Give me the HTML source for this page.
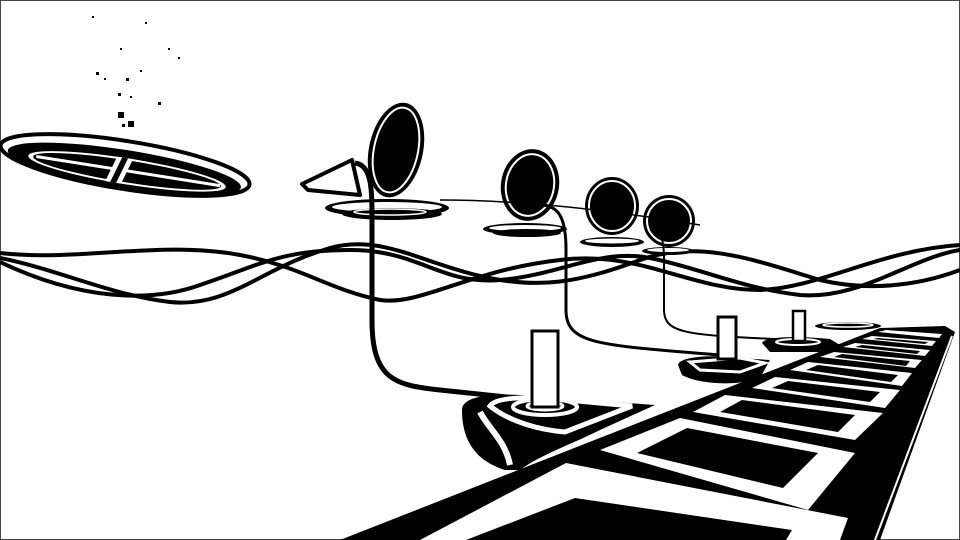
<!DOCTYPE html>
<html><head><meta charset="utf-8"><style>
html,body{margin:0;padding:0;background:#fff;width:960px;height:540px;overflow:hidden}
svg{display:block}
</style></head><body>
<svg width="960" height="540" viewBox="0 0 960 540" xmlns="http://www.w3.org/2000/svg">
<rect x="0.5" y="0.5" width="959" height="539" fill="#fff" stroke="#444" stroke-width="1"/>
<g fill="#000">
<rect x="118" y="112" width="6" height="6"/><rect x="128" y="121" width="6" height="6"/><rect x="122" y="124" width="3" height="3"/>
<rect x="96" y="72" width="3" height="3"/><rect x="118" y="93" width="3" height="3"/><rect x="126" y="78" width="3" height="3"/>
<rect x="158" y="102" width="3" height="3"/><rect x="140" y="70" width="2" height="2"/><rect x="92" y="16" width="2" height="2"/>
<rect x="145" y="22" width="2" height="2"/><rect x="168" y="48" width="2" height="2"/><rect x="178" y="57" width="2" height="2"/>
<rect x="130" y="96" width="2" height="2"/><rect x="104" y="78" width="2" height="2"/><rect x="120" y="48" width="2" height="2"/>
</g>
<!-- left disc -->
<g transform="rotate(9 125 165)">
<ellipse cx="125" cy="165" rx="126" ry="24" fill="none" stroke="#000" stroke-width="4"/>
<ellipse cx="125" cy="169" rx="118" ry="19" fill="#000"/>
<ellipse cx="128" cy="171" rx="100" ry="13" fill="#fff"/>
<ellipse cx="128" cy="171" rx="95" ry="11" fill="#000"/>
<rect x="36" y="169" width="186" height="3" fill="#fff"/>
<polygon points="116,158 132,158 124,184 108,184" fill="#fff"/>
<polygon points="121,158 127,158 119,184 113,184" fill="#000"/>
</g>
<!-- waves -->
<g fill="none" stroke="#000" stroke-width="4">
<path d="M0,253 C80,262 160,240 240,255 C300,266 330,290 380,300 C420,306 470,270 560,260 C640,250 690,290 760,290 C820,288 880,250 960,245"/>
<path d="M0,258 C60,270 110,295 170,302 C230,308 260,268 330,248 C380,234 420,262 480,276 C540,290 580,282 640,260 C700,238 760,262 820,280 C870,292 920,285 960,270"/>
<path d="M0,262 C80,300 150,303 200,285 C260,265 280,250 350,250 C420,250 440,285 500,280 C560,275 600,248 650,258 C700,268 740,288 800,295 C860,300 910,258 960,250"/>
</g>
<!-- platforms under rings -->
<g>
<ellipse cx="387" cy="208" rx="62" ry="9" fill="#000"/>
<ellipse cx="387" cy="207" rx="55" ry="5" fill="#fff"/>
<ellipse cx="392" cy="214" rx="50" ry="6" fill="#000"/>
<ellipse cx="390" cy="212" rx="36" ry="3" fill="none" stroke="#fff" stroke-width="1.5"/>
<ellipse cx="525" cy="229" rx="42" ry="6" fill="#000"/>
<ellipse cx="525" cy="228" rx="36" ry="3" fill="#fff"/>
<ellipse cx="527" cy="233" rx="34" ry="4" fill="#000"/>
<ellipse cx="612" cy="242" rx="32" ry="5" fill="#000"/>
<ellipse cx="612" cy="241" rx="27" ry="2.5" fill="#fff"/>
<ellipse cx="668" cy="251" rx="26" ry="4" fill="#000"/>
<ellipse cx="668" cy="250" rx="21" ry="2" fill="#fff"/>
<path d="M302,184 L352,160 L360,195 L308,190 Z" fill="none" stroke="#000" stroke-width="4" stroke-linejoin="round"/>
</g>
<!-- rings -->
<g>
<ellipse cx="396" cy="150" rx="27" ry="48" transform="rotate(12 396 150)" fill="#000"/>
<ellipse cx="396" cy="150" rx="22" ry="43" transform="rotate(12 396 150)" fill="none" stroke="#fff" stroke-width="2"/>
<ellipse cx="530" cy="185" rx="29" ry="36" transform="rotate(10 530 185)" fill="#000"/>
<ellipse cx="530" cy="185" rx="24" ry="31" transform="rotate(10 530 185)" fill="none" stroke="#fff" stroke-width="2"/>
<ellipse cx="612" cy="206" rx="27" ry="29" fill="#000"/>
<ellipse cx="612" cy="206" rx="23" ry="25" fill="none" stroke="#fff" stroke-width="2"/>
<ellipse cx="669" cy="221" rx="26" ry="26" fill="#000"/>
<ellipse cx="669" cy="221" rx="22" ry="22" fill="none" stroke="#fff" stroke-width="2"/>
</g>
<!-- pipes -->
<g fill="none" stroke="#000">
<path d="M355,163 C372,165 372,190 372,220 L372,320 C372,380 395,385 440,390 L535,400" stroke-width="5"/>
<path d="M540,205 C560,205 566,220 566,250 L566,310 C566,345 600,345 720,355" stroke-width="3"/>
<path d="M650,230 C662,232 664,240 664,260 L664,310 C664,335 690,335 795,340" stroke-width="2"/>
<path d="M440,200 C500,200 580,205 700,225" stroke-width="1.5"/>
</g>
<!-- track -->
<polygon points="340,540 880,540 955,332 945,326 880,328" fill="#000"/>
<polyline points="875,540 952,336" fill="none" stroke="#fff" stroke-width="2"/>
<!-- nearest pedestal base -->
<path d="M462,410 C462,396 490,394 520,395 L655,405 L600,430 C570,445 540,455 520,470 L505,470 C480,462 462,445 462,410 Z" fill="#000"/>
<path d="M480,412 C488,428 505,440 510,465" fill="none" stroke="#fff" stroke-width="6"/>
<path d="M490,406 C495,398 520,397 545,398 L632,406 L565,432 C540,430 510,422 490,406 Z" fill="none" stroke="#fff" stroke-width="5"/>
<ellipse cx="545" cy="407" rx="32" ry="8" fill="none" stroke="#fff" stroke-width="4"/>
<ellipse cx="545" cy="406" rx="18" ry="4" fill="none" stroke="#fff" stroke-width="3"/>
<rect x="532" y="331" width="26" height="76" fill="#fff" stroke="#000" stroke-width="3"/>
<!-- other pedestals -->
<path d="M678,365 C680,355 720,355 740,358 L770,360 L760,378 C740,386 700,385 682,375 Z" fill="#000"/>
<path d="M690,362 L740,358 L765,363 L740,372 L700,370 Z" fill="none" stroke="#fff" stroke-width="3"/>
<rect x="718" y="317" width="18" height="42" fill="#fff" stroke="#000" stroke-width="3"/>
<path d="M762,343 C765,336 800,336 830,339 L840,345 L820,352 L770,352 Z" fill="#000"/>
<ellipse cx="798" cy="342" rx="22" ry="3" fill="none" stroke="#fff" stroke-width="2"/>
<rect x="793" y="311" width="12" height="30" fill="#fff" stroke="#000" stroke-width="2.5"/>
<ellipse cx="848" cy="326" rx="33" ry="4" fill="#000"/>
<ellipse cx="848" cy="325" rx="25" ry="2" fill="none" stroke="#fff" stroke-width="1.5"/>
<!-- cells -->
<g>
<polygon points="420,540 566,463 848,518 840,540" fill="#fff"/>
<polygon points="466,540 575,498 792,530 786,540" fill="#000"/>
<polygon points="600,450 680,418 855,453 808,510" fill="#fff"/>
<polygon points="637,453 687,428 818,453 783,488" fill="#000"/>
<polygon points="693,412 725,395 883,413 855,440" fill="#fff"/>
<polygon points="720,412 742,400 855,415 838,432" fill="#000"/>
<polygon points="752,388 775,377 900,390 885,408" fill="#fff"/>
<polygon points="772,388 788,381 880,392 870,402" fill="#000"/>
<polygon points="790,370 808,362 912,373 902,386" fill="#fff"/>
<polygon points="806,370 818,365 898,375 891,382" fill="#000"/>
<polygon points="820,357 834,352 922,360 915,368" fill="#fff"/>
<polygon points="834,357 842,354 910,361 906,366" fill="#000"/>
<polygon points="843,347 855,343 930,350 925,356" fill="#fff"/>
<polygon points="855,347 862,345 920,351 917,354" fill="#000"/>
<polygon points="862,339 872,336 936,341 932,346" fill="#fff"/>
<polygon points="873,339 878,338 928,342 925,344" fill="#000"/>
<polygon points="878,332 886,330 942,334 939,338" fill="#fff"/>
</g>
</svg>
</body></html>
